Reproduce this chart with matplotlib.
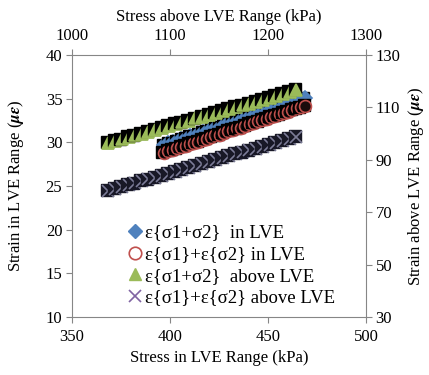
import matplotlib
matplotlib.use("Agg")
import matplotlib.pyplot as plt
import matplotlib.transforms as mtransforms
from matplotlib.lines import Line2D

plt.rcParams['font.family'] = ['Liberation Serif', 'DejaVu Serif']
plt.rcParams['mathtext.fontset'] = 'stix'
plt.rcParams['font.size'] = 12

# in LVE series (bottom / left axes)
lve_stress = [397.0, 399.2, 401.4, 403.5, 405.7, 407.9, 410.1, 412.3, 414.5, 416.6,
              418.8, 421.0, 423.2, 425.4, 427.5, 429.7, 431.9, 434.1, 436.3, 438.5,
              440.6, 442.8, 445.0, 447.2, 449.4, 451.5, 453.7, 455.9, 458.1, 460.3,
              462.5, 464.6, 466.8, 469.0]
lve_sum_strain = [29.7, 29.9, 30.0, 30.2, 30.4, 30.5, 30.7, 30.8, 31.0, 31.2,
                  31.3, 31.5, 31.7, 31.8, 32.0, 32.2, 32.3, 32.5, 32.6, 32.8,
                  33.0, 33.1, 33.3, 33.5, 33.6, 33.8, 33.9, 34.1, 34.3, 34.4,
                  34.6, 34.8, 34.9, 35.1]
lve_sep_strain = [28.8, 29.0, 29.1, 29.3, 29.5, 29.6, 29.8, 29.9, 30.1, 30.3,
                  30.4, 30.6, 30.8, 30.9, 31.1, 31.3, 31.4, 31.6, 31.7, 31.9,
                  32.1, 32.2, 32.4, 32.6, 32.7, 32.9, 33.0, 33.2, 33.4, 33.5,
                  33.7, 33.9, 34.0, 34.2]

# above LVE series (top / right axes)
above_stress = [1037, 1044, 1051, 1058, 1064, 1071, 1078, 1085, 1092, 1099,
                1106, 1112, 1119, 1126, 1133, 1140, 1147, 1154, 1160, 1167,
                1174, 1181, 1188, 1195, 1202, 1208, 1215, 1222, 1229]
above_sum_strain = [96.4, 97.1, 97.8, 98.6, 99.3, 100.0, 100.7, 101.4, 102.2, 102.9,
                    103.6, 104.3, 105.0, 105.8, 106.5, 107.2, 107.9, 108.6, 109.4, 110.1,
                    110.8, 111.5, 112.2, 113.0, 113.7, 114.4, 115.1, 115.8, 116.6]
above_sep_strain = [78.1, 78.8, 79.6, 80.3, 81.0, 81.8, 82.5, 83.2, 84.0, 84.7,
                    85.5, 86.2, 86.9, 87.7, 88.4, 89.1, 89.9, 90.6, 91.4, 92.1,
                    92.8, 93.6, 94.3, 95.0, 95.8, 96.5, 97.3, 98.0, 98.7]

labels = ["ε{σ1+σ2}  in LVE", "ε{σ1}+ε{σ2} in LVE",
          "ε{σ1+σ2}  above LVE", "ε{σ1}+ε{σ2} above LVE"]

blue = '#4F81BD'
red = '#C0504D'
green = '#9BBB59'
purple = '#8064A2'
spine_c = '#868686'


def shadow_series(ax, xs, ys, marker, face, edge, size, back='black'):
    # each marker sits on a dark shadow square, drawn point by point
    shift = mtransforms.offset_copy(ax.transData, fig=ax.figure, x=-1.2, y=0.6, units='points')
    for x, y in zip(xs, ys):
        ax.plot(x, y, marker='s', ms=size * 0.85, mfc=back, mec=back, ls='none', transform=shift)
        ax.plot(x, y, marker=marker, ms=size * 0.9, mfc=face, mec=edge, mew=1.2, ls='none')


fig = plt.figure(figsize=(4.29, 3.75), dpi=100)
ax = fig.add_axes([0.168, 0.155, 0.685, 0.698])
ax2 = fig.add_axes(ax.get_position(), frameon=False)

shadow_series(ax, lve_stress, lve_sum_strain, 'D', blue, blue, 8)
shadow_series(ax, lve_stress, lve_sep_strain, 'o', '#1a0c0c', red, 9.5)
shadow_series(ax2, above_stress, above_sum_strain, '^', green, green, 9.5)
shadow_series(ax2, above_stress, above_sep_strain, 'x', purple, '#7c7c98', 9.5, back='#181826')

ax.set_xlim(350, 500)
ax.set_ylim(10, 40)
ax.set_xticks([350, 400, 450, 500])
ax.set_yticks([10, 15, 20, 25, 30, 35, 40])
ax2.set_xlim(1000, 1300)
ax2.set_ylim(30, 130)
ax2.set_xticks([1000, 1100, 1200, 1300])
ax2.set_yticks([30, 50, 70, 90, 110, 130])

ax2.xaxis.tick_top()
ax2.xaxis.set_label_position('top')
ax2.yaxis.tick_right()
ax2.yaxis.set_label_position('right')
ax2.patch.set_visible(False)

for s in ax.spines.values():
    s.set_color(spine_c)
for a in (ax, ax2):
    a.tick_params(direction='out', length=4, color=spine_c, labelsize=12, pad=3)
ax.tick_params(axis='x', pad=5)
ax2.tick_params(axis='x', pad=4)

ax.set_xlabel("Stress in LVE Range (kPa)", fontsize=12, labelpad=3)
ax.set_ylabel(r"Strain in LVE Range ($\mathbfit{\mu\varepsilon}$)", fontsize=12, labelpad=14)
ax2.set_xlabel("Stress above LVE Range (kPa)", fontsize=12, labelpad=5)
ax2.set_ylabel(r"Strain above LVE Range ($\mathbfit{\mu\varepsilon}$)", fontsize=12, labelpad=4)

handles = [
    Line2D([], [], marker='D', ms=7, mfc=blue, mec=blue, ls='none'),
    Line2D([], [], marker='o', ms=9, mfc='none', mec=red, mew=1.2, ls='none'),
    Line2D([], [], marker='^', ms=9, mfc=green, mec=green, ls='none'),
    Line2D([], [], marker='x', ms=9, mfc='none', mec=purple, mew=1.2, ls='none'),
]
ax2.legend(handles, labels, loc='lower left', bbox_to_anchor=(0.19, 0.04),
           frameon=False, fontsize=13.5, handlelength=0.8, handletextpad=0.1,
           labelspacing=0.24, borderaxespad=0, borderpad=0)

fig.savefig("out.png", dpi=100)
